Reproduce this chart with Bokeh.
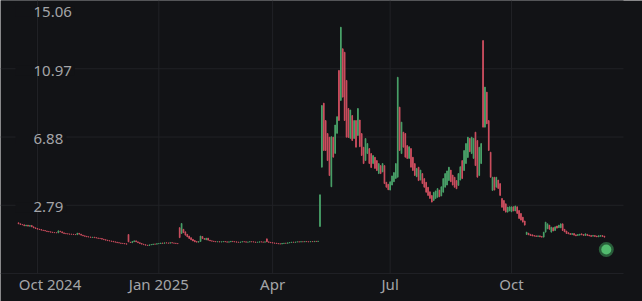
from bokeh.plotting import figure
from bokeh.models import Range1d, Label, ColumnDataSource
from bokeh.embed import file_html
from bokeh.resources import INLINE

# ---- data (daily candles, trading-day index 0..309, 17 Sep 2024 .. 10 Dec 2025) ----
opens = [
    1.74, 1.68, 1.64, 1.62, 1.55, 1.60, 1.53, 1.58, 1.50, 1.44,
    1.40, 1.36, 1.34, 1.30, 1.28, 1.25, 1.22, 1.20, 1.18, 1.16,
    1.15, 1.14, 1.24, 1.20, 1.14, 1.10, 1.08, 1.07, 1.06, 1.05,
    1.04, 1.03, 1.11, 1.06, 1.00, 0.96, 0.93, 0.90, 0.89, 0.86,
    0.88, 0.85, 0.83, 0.81, 0.80, 0.76, 0.73, 0.70, 0.67, 0.65,
    0.63, 0.60, 0.58, 0.55, 0.53, 0.51, 0.50, 0.48, 1.04, 0.58,
    0.55, 0.61, 0.66, 0.60, 0.55, 0.50, 0.46, 0.43, 0.40, 0.38,
    0.42, 0.44, 0.47, 0.46, 0.49, 0.50, 0.53, 0.51, 0.54, 0.53,
    0.52, 0.55, 0.53, 0.52, 0.50, 1.45, 1.10, 1.35, 1.20, 1.05,
    0.95, 0.85, 0.75, 0.68, 0.62, 0.58, 0.62, 0.92, 0.80, 0.72,
    0.82, 0.70, 0.66, 0.64, 0.62, 0.60, 0.61, 0.59, 0.60, 0.62,
    0.60, 0.58, 0.60, 0.63, 0.61, 0.60, 0.58, 0.57, 0.59, 0.61,
    0.60, 0.58, 0.59, 0.61, 0.60, 0.59, 0.57, 0.58, 0.60, 0.59,
    0.58, 0.78, 0.60, 0.57, 0.55, 0.53, 0.52, 0.50, 0.48, 0.47,
    0.50, 0.52, 0.51, 0.54, 0.56, 0.58, 0.57, 0.59, 0.60, 0.59,
    0.61, 0.60, 0.62, 0.61, 0.60, 0.62, 0.61, 0.63, 0.62, 1.52,
    5.07, 8.91, 7.87, 7.09, 6.87, 3.90, 6.87, 5.90, 7.10, 10.87,
    9.07, 12.17, 11.96, 10.27, 8.59, 6.80, 8.17, 6.79, 7.87, 6.97,
    7.90, 7.09, 6.27, 5.47, 5.89, 6.19, 5.89, 5.29, 5.67, 5.47,
    4.69, 5.17, 4.79, 5.17, 4.17, 4.05, 3.70, 4.00, 4.20, 4.40,
    4.47, 8.67, 5.89, 7.17, 7.09, 6.37, 5.60, 6.19, 5.67, 5.29,
    4.50, 5.07, 4.30, 4.69, 4.39, 4.17, 3.87, 3.60, 3.38, 3.08,
    3.20, 3.27, 3.70, 3.35, 3.57, 3.87, 4.00, 4.27, 4.90, 4.60,
    4.47, 4.27, 3.98, 4.30, 5.47, 4.87, 5.29, 5.65, 6.80, 5.89,
    5.60, 7.17, 6.67, 4.57, 5.29, 12.66, 7.47, 9.57, 7.87, 5.97,
    3.68, 4.47, 3.87, 4.30, 4.09, 3.20, 3.08, 2.88, 2.38, 2.45,
    2.40, 2.70, 2.45, 2.70, 2.48, 2.30, 2.08, 1.85, 1.04, 1.12,
    1.05, 1.02, 0.98, 0.96, 0.92, 0.96, 0.92, 0.88, 1.18, 1.38,
    1.60, 1.18, 1.45, 1.28, 1.55, 1.45, 1.44, 1.68, 1.35, 1.25,
    1.15, 1.10, 1.04, 1.10, 1.02, 0.98, 1.00, 1.08, 1.04, 0.98,
    1.05, 1.00, 0.98, 0.94, 0.98, 0.95, 0.90, 0.93, 0.98, 0.94,
]
closes = [
    1.68, 1.64, 1.62, 1.56, 1.60, 1.54, 1.58, 1.50, 1.44, 1.40,
    1.36, 1.34, 1.30, 1.28, 1.25, 1.22, 1.20, 1.18, 1.16, 1.15,
    1.14, 1.26, 1.20, 1.14, 1.10, 1.08, 1.07, 1.06, 1.05, 1.04,
    1.03, 1.12, 1.06, 1.00, 0.96, 0.93, 0.90, 0.89, 0.87, 0.88,
    0.85, 0.83, 0.81, 0.80, 0.76, 0.73, 0.70, 0.67, 0.65, 0.63,
    0.60, 0.58, 0.55, 0.53, 0.51, 0.50, 0.48, 0.46, 0.60, 0.56,
    0.62, 0.66, 0.60, 0.55, 0.50, 0.46, 0.43, 0.40, 0.38, 0.42,
    0.44, 0.47, 0.46, 0.49, 0.50, 0.53, 0.51, 0.54, 0.53, 0.52,
    0.55, 0.53, 0.52, 0.50, 0.49, 0.85, 1.70, 1.15, 1.00, 0.90,
    0.80, 0.72, 0.65, 0.60, 0.58, 0.62, 0.95, 0.80, 0.75, 0.82,
    0.70, 0.66, 0.64, 0.62, 0.60, 0.61, 0.59, 0.60, 0.62, 0.60,
    0.58, 0.60, 0.63, 0.61, 0.60, 0.58, 0.57, 0.59, 0.61, 0.60,
    0.58, 0.59, 0.61, 0.60, 0.59, 0.57, 0.58, 0.60, 0.59, 0.58,
    0.60, 0.60, 0.57, 0.55, 0.53, 0.52, 0.50, 0.48, 0.47, 0.50,
    0.52, 0.51, 0.54, 0.56, 0.58, 0.57, 0.59, 0.60, 0.59, 0.61,
    0.60, 0.62, 0.61, 0.60, 0.62, 0.61, 0.63, 0.62, 0.64, 3.42,
    8.77, 6.07, 6.07, 5.47, 4.57, 6.90, 5.67, 7.60, 8.10, 7.87,
    13.46, 9.27, 7.87, 6.87, 6.85, 8.50, 6.67, 7.87, 6.27, 8.59,
    6.30, 5.77, 5.29, 6.79, 6.49, 5.29, 5.05, 5.77, 5.00, 4.87,
    5.29, 4.69, 5.29, 4.09, 3.87, 3.72, 4.20, 4.55, 4.75, 5.29,
    10.46, 6.07, 7.77, 6.27, 5.67, 5.59, 6.30, 5.07, 4.87, 4.57,
    5.00, 4.27, 4.90, 4.09, 3.87, 3.57, 3.38, 3.20, 2.98, 3.57,
    3.65, 3.79, 3.30, 3.90, 4.39, 4.69, 4.85, 5.07, 4.20, 4.00,
    3.87, 3.78, 4.69, 5.10, 4.39, 6.07, 6.49, 6.87, 6.00, 6.87,
    6.80, 5.17, 4.47, 6.27, 6.49, 7.47, 9.87, 7.67, 6.07, 4.47,
    4.47, 3.70, 4.47, 3.80, 3.38, 2.67, 2.48, 2.38, 2.68, 2.70,
    2.70, 2.45, 2.75, 2.30, 2.00, 1.90, 1.78, 1.60, 1.18, 1.02,
    0.98, 0.95, 0.94, 0.92, 0.96, 0.90, 0.88, 1.18, 1.78, 1.68,
    1.35, 1.48, 1.25, 1.50, 1.42, 1.60, 1.68, 1.28, 1.20, 1.10,
    1.08, 1.04, 1.10, 1.00, 0.96, 1.04, 1.06, 1.02, 0.98, 1.08,
    0.98, 0.95, 0.92, 0.98, 0.92, 0.90, 0.97, 0.98, 0.92, 0.88,
]
tick_index = [10, 74, 134, 196, 260]
tick_labels = ["Oct 2024", "Jan 2025", "Apr", "Jul", "Oct"]
y_ticks = [-1.30, 2.79, 6.88, 10.97, 15.06]
y_tick_labels = ["", "2.79", "6.88", "10.97", "15.06"]
marker_index = [310]
marker_value = [0.14]

# ---- style / layout ----
W, H = 642, 301
BG = "#121316"
GRID = "#212226"
TEXT = "#a4a5a8"
UP = "#4aa36a"
DOWN = "#cf4f60"
FONT = "Noto Sans"
PX_PER_BAR = 1.896          # horizontal scale, pixels per trading day
PX_PER_UNIT = 16.69         # vertical scale, pixels per price unit
X0 = -9.51                  # index at the left edge
PLOT_RIGHT_PX = 623         # grid ends here
top_val, bottom_val = max(y_ticks), min(y_ticks)
x_end_grid = X0 + PLOT_RIGHT_PX / PX_PER_BAR

idx = list(range(len(closes)))
src = ColumnDataSource(dict(
    x=idx,
    top=[max(o, c) for o, c in zip(opens, closes)],
    bottom=[min(o, c) for o, c in zip(opens, closes)],
    color=[UP if c >= o else DOWN for o, c in zip(opens, closes)],
))

p = figure(width=W, height=H, output_backend="svg", toolbar_location=None,
           x_range=Range1d(X0, X0 + W / PX_PER_BAR),
           y_range=Range1d(top_val - H / PX_PER_UNIT, top_val),
           x_axis_location=None, y_axis_location=None,
           background_fill_color=BG, border_fill_color=BG, outline_line_color=None,
           min_border=0)
p.xgrid.visible = False
p.ygrid.visible = False

# grid lines, bounded to the chart area
p.segment(x0=tick_index, x1=tick_index, y0=[bottom_val] * len(tick_index),
          y1=[top_val] * len(tick_index), line_color=GRID, line_width=1)
p.segment(x0=[X0] * len(y_ticks), x1=[x_end_grid] * len(y_ticks), y0=y_ticks, y1=y_ticks,
          line_color=GRID, line_width=1)

# candles
p.vbar(x="x", top="top", bottom="bottom", width=0.35, source=src,
       fill_color="color", line_color="color", line_width=1)

# last-price marker
p.scatter(x=marker_index, y=marker_value, size=15, fill_color="#3d9d5a", fill_alpha=0.55, line_color=None)
p.scatter(x=marker_index, y=marker_value, size=10, fill_color="#52bb6e", line_color=None)

# x tick labels (first one nudged right so it stays inside the chart, as in the original)
for k, (t, l) in enumerate(zip(tick_index, tick_labels)):
    p.add_layout(Label(x=t, y=bottom_val, x_units="data", y_units="data", text=l,
                       text_align="center", text_baseline="middle", text_color=TEXT,
                       text_font=FONT, text_font_size="15px",
                       x_offset=(12.5 if k == 0 else 0), y_offset=-10.5))

# y tick labels drawn inside the plot, masking the grid line behind them
for v, t in zip(y_ticks, y_tick_labels):
    if not t:
        continue
    p.add_layout(Label(x=15, y=v, x_units="screen", y_units="data", text=t,
                       text_baseline="middle", text_color=TEXT, text_font=FONT,
                       text_font_size="15px", y_offset=(-11 if v == top_val else -2),
                       background_fill_color=BG,
                       padding=dict(left=18, right=3, top=0, bottom=0)))

open("out.html", "w").write(file_html(p, INLINE))
